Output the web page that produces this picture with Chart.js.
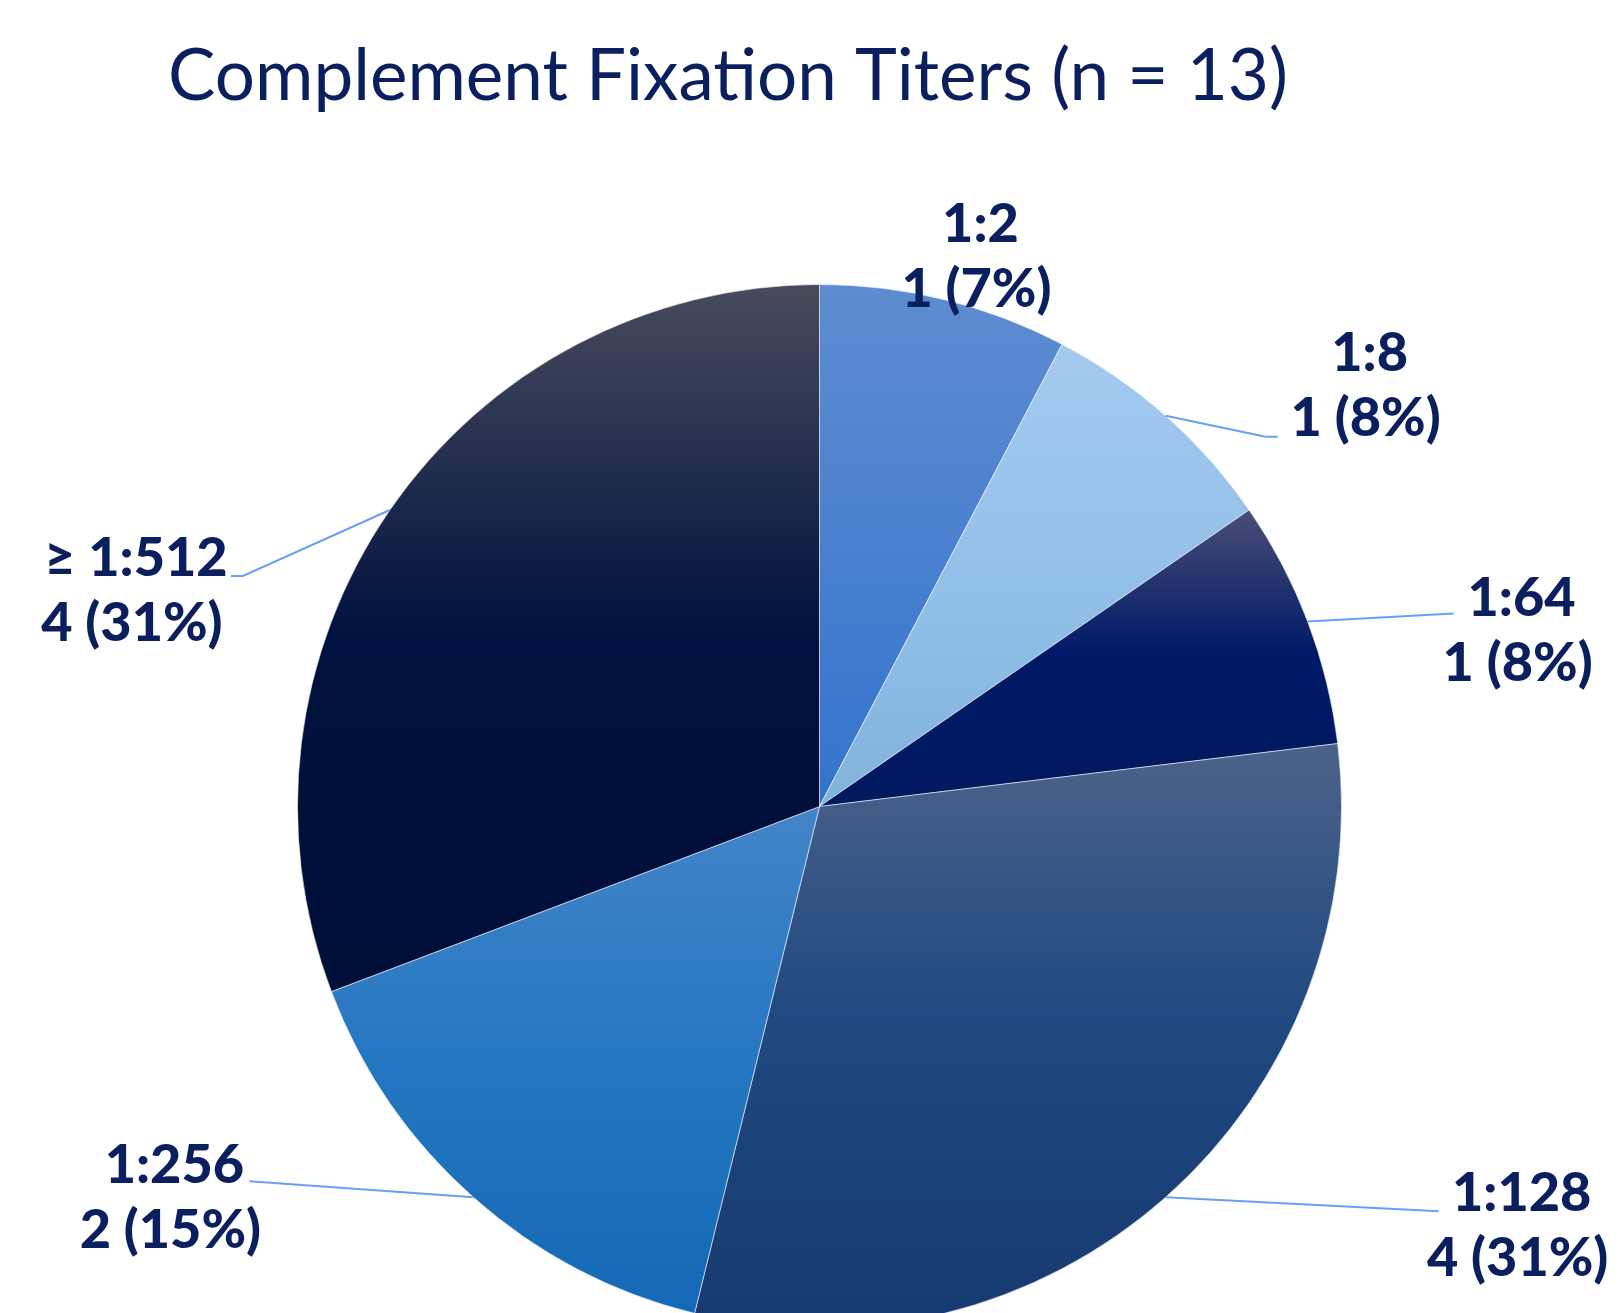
<!DOCTYPE html>
<html>
<head>
<meta charset="utf-8">
<script src="https://cdn.jsdelivr.net/npm/chart.js@4/dist/chart.umd.min.js"></script>
<style>
  html, body { margin: 0; padding: 0; background: #ffffff; overflow: hidden; }
  #wrap { position: absolute; left: 0; top: 0; width: 1621px; height: 1340px; }
</style>
</head>
<body>
<div id="wrap"><canvas id="titer_chart"></canvas></div>
<script>
// data
var titers = ['1:2', '1:8', '1:64', '1:128', '1:256', '≥ 1:512'];
var counts = [1, 1, 1, 4, 2, 4];
var percents = ['7%', '8%', '8%', '31%', '15%', '31%'];
var chartTitle = 'Complement Fixation Titers (n = 13)';

// vertical gradient per slice: [top colour, middle colour, middle stop, bottom colour]
var sliceGradients = [
	['#5e8cd1', '#4a80cf', 0.5, '#3274cc'],
	['#a4c9ee', '#93c0e9', 0.5, '#80b2dc'],
	['#4a4e76', '#001a68', 0.48, '#00195f'],
	['#4c6389', '#204a81', 0.45, '#163a70'],
	['#4384c9', '#2577c1', 0.5, '#1568b5'],
	['#484b5d', '#00113f', 0.5, '#000f38']
];

// label placement, relative to the point where the slice middle meets the rim
// text: [dx, dy of first baseline]; leader: list of [dx, dy] points (empty = no line)
var labelLayout = [
	{ text: [36, -58], leader: [] },
	{ text: [204, -45], leader: [[0, 0], [100, 21], [112, 21]] },
	{ text: [214, -5], leader: [[0, 0], [146, -8]] },
	{ text: [356, 14], leader: [[0, 0], [273, 14]] },
	{ text: [-299, -14], leader: [[0, 0], [-224, -16]] },
	{ text: [-254, 66], leader: [[0, 0], [-147, 66], [-159, 66]] }
];

var textColor = '#0b1f5f';

function sliceFill(context) {
	var i = context.dataIndex;
	var g = sliceGradients[i];
	var arc = context.chart.getDatasetMeta(0).data[i];
	if (!arc || !arc.outerRadius) {
		return g[3];
	}
	var r = arc.outerRadius;
	var ys = [arc.y, arc.y + r * Math.sin(arc.startAngle), arc.y + r * Math.sin(arc.endAngle)];
	[-Math.PI / 2, Math.PI / 2, 3 * Math.PI / 2].forEach(function (t) {
		if (t >= arc.startAngle && t <= arc.endAngle) {
			ys.push(arc.y + r * Math.sin(t));
		}
	});
	var top = Math.min.apply(null, ys);
	var bottom = Math.max.apply(null, ys);
	var grad = context.chart.ctx.createLinearGradient(0, top, 0, bottom);
	grad.addColorStop(0, g[0]);
	grad.addColorStop(g[2], g[1]);
	grad.addColorStop(1, g[3]);
	return grad;
}

// 제목과 바깥 라벨 그리기
var outsideLabelsPlugin = {
	id: 'outsideLabels',
	afterDraw(chart) {
		var ctx = chart.ctx;
		ctx.save();

		ctx.fillStyle = textColor;
		ctx.font = '400 71px Lato';
		ctx.textAlign = 'center';
		ctx.textBaseline = 'alphabetic';
		ctx.fillText(chartTitle, 728, 100);

		var arcs = chart.getDatasetMeta(0).data;
		arcs.forEach(function (arc, i) {
			var mid = (arc.startAngle + arc.endAngle) / 2;
			var ex = arc.x + Math.cos(mid) * arc.outerRadius;
			var ey = arc.y + Math.sin(mid) * arc.outerRadius;
			var lay = labelLayout[i];

			if (lay.leader.length) {
				ctx.strokeStyle = '#6b9df6';
				ctx.lineWidth = 2;
				ctx.beginPath();
				lay.leader.forEach(function (p, k) {
					if (k === 0) ctx.moveTo(ex + p[0], ey + p[1]);
					else ctx.lineTo(ex + p[0], ey + p[1]);
				});
				ctx.stroke();
			}

			var cx = ex + lay.text[0];
			var by = ey + lay.text[1];
			ctx.fillStyle = textColor;
			ctx.font = '900 54px Lato';
			ctx.textAlign = 'center';
			ctx.fillText(titers[i], cx, by);
			ctx.fillText(counts[i] + ' (' + percents[i] + ')', cx - 4, by + 65);
		});
		ctx.restore();
	}
};

var titerChart = new Chart(document.getElementById('titer_chart'), {
	type: 'pie',
	data: {
		labels: titers,
		datasets: [{
			data: counts,
			backgroundColor: sliceFill,
			borderColor: 'rgba(255, 255, 255, 0.55)',
			borderWidth: 1
		}]
	},
	options: {
		responsive: true,
		maintainAspectRatio: false,
		animation: false,
		events: [],
		plugins: {
			legend: { display: false },
			tooltip: { enabled: false },
			title: { display: false }
		},
		layout: {
			padding: {
				top: 284,
				bottom: 11,
				left: 297,
				right: 279
			}
		}
	},
	plugins: [outsideLabelsPlugin]
});

// 두번째 업데이트에서 조각 위치로 그라데이션 계산
titerChart.update();
</script>
</body>
</html>
